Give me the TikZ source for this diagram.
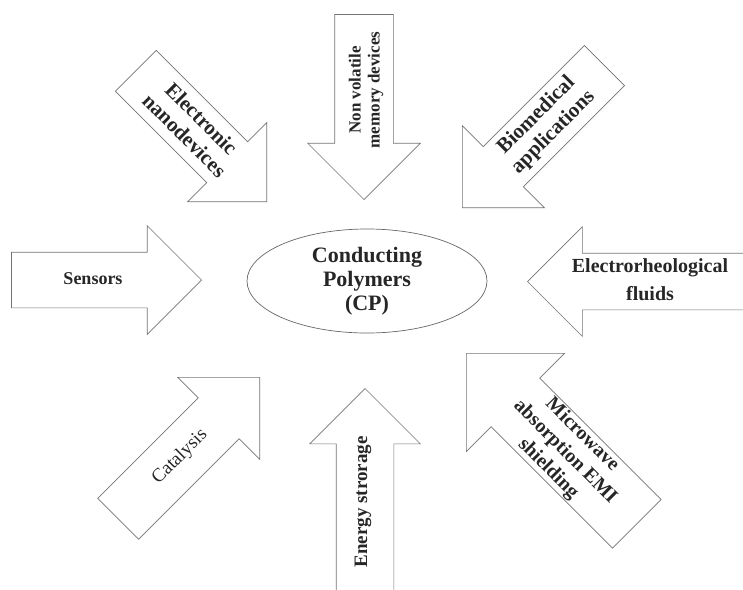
\documentclass[tikz,border=0pt]{standalone}
\usepackage{fontspec}
\setmainfont{Liberation Serif}
\usetikzlibrary{shapes.geometric,shapes.arrows}

\begin{document}
\begin{tikzpicture}[x=1pt,y=-1pt,
	every node/.style={text=black!85},
	cparrow/.style={single arrow, draw=black!55, line width=0.7pt, inner xsep=0pt,
		single arrow tip angle=90, anchor=tip},
	lbl/.style={align=center, inner sep=0pt},
	hub/.style={ellipse, draw=black!60, line width=0.7pt, inner sep=0pt, align=center,
		minimum width=240pt, minimum height=104pt}]
	\useasboundingbox (0,0) rectangle (743,589);
	% centre
	\node[hub, font=\fontsize{22}{24}\selectfont\bfseries] (cp) at (367,281) {Conducting\\ Polymers\\ (CP)};
	% left and right
	\node[cparrow, inner ysep=27.5pt, single arrow head extend=26.5pt, minimum height=190pt] (sensors arrow) at (202,280) {};
	\node[lbl, font=\fontsize{18}{21}\selectfont\bfseries] (sensors) at (93,279) {Sensors};
	\node[cparrow, shape border rotate=180, inner ysep=28pt, single arrow head extend=26.5pt, minimum height=221pt] (fluids arrow) at (527,281.5) {};
	\node[lbl, font=\fontsize{20}{28}\selectfont\bfseries] (fluids) at (650,280) {Electrorheological\\ fluids};
	% top and bottom
	\node[cparrow, rotate=90, shape border rotate=180, inner ysep=29pt, single arrow head extend=27pt, minimum height=185pt] (memory arrow) at (364,200) {};
	\node[lbl, rotate=90, font=\fontsize{17}{19}\selectfont\bfseries] (memory) at (366,90) {Non volatile\\ memory devices};
	\node[cparrow, rotate=90, inner ysep=28.5pt, single arrow head extend=26.5pt, minimum height=207pt] (energy arrow) at (365,388) {};
	\node[lbl, rotate=90, font=\fontsize{19}{22}\selectfont\bfseries] (energy) at (363,502) {Energy strorage};
	% diagonals
	\node[cparrow, rotate=-45, inner ysep=28.5pt, single arrow head extend=27pt, minimum height=185pt] (nano arrow) at (267,202) {};
	\node[lbl, rotate=-45, font=\fontsize{21}{24}\selectfont\bfseries] (nano) at (193,127) {Electronic\\ nanodevices};
	\node[cparrow, rotate=45, shape border rotate=180, inner ysep=28pt, single arrow head extend=29.5pt, minimum height=201pt] (bio arrow) at (462,208) {};
	\node[lbl, rotate=45, font=\fontsize{21}{24}\selectfont\bfseries] (bio) at (545,124) {Biomedical\\ applications};
	\node[cparrow, rotate=45, inner ysep=28.5pt, single arrow head extend=29pt, minimum height=200pt] (catalysis arrow) at (260,377) {};
	\node[lbl, rotate=45, font=\fontsize{19}{22}\selectfont] (catalysis) at (180,457) {Catalysis};
	\node[cparrow, rotate=-45, shape border rotate=180, inner ysep=34pt, single arrow head extend=35pt, minimum height=241pt] (microwave arrow) at (466,353) {};
	\node[lbl, rotate=-45, font=\fontsize{20}{24}\selectfont\bfseries] (microwave) at (565,452) {Microwave\\ absorption EMI\\ shielding};
\end{tikzpicture}
\end{document}
